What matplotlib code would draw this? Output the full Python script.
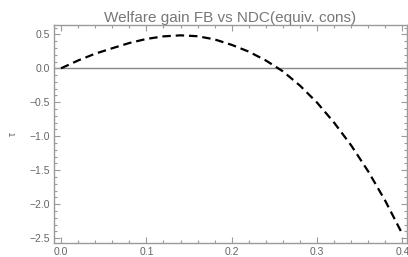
import matplotlib
matplotlib.use("Agg")
import matplotlib.pyplot as plt
from matplotlib.ticker import MultipleLocator

# values
x_vals = [0.00, 0.02, 0.04, 0.06, 0.08, 0.10, 0.12, 0.14, 0.16, 0.18, 0.20,
          0.22, 0.24, 0.26, 0.28, 0.30, 0.32, 0.34, 0.36, 0.38, 0.40]
tau_vals = [0.000, 0.115, 0.215, 0.295, 0.372, 0.432, 0.470, 0.485, 0.472, 0.425, 0.345,
            0.245, 0.115, -0.045, -0.255, -0.505, -0.800, -1.135, -1.518, -1.952, -2.440]
x_ticks = [0.0, 0.1, 0.2, 0.3, 0.4]
y_ticks = [0.5, 0.0, -0.5, -1.0, -1.5, -2.0, -2.5]

plt.rcParams["font.family"] = ["Liberation Sans", "DejaVu Sans"]
frame_col = "#9a9a9a"
text_col = "#666666"

fig = plt.figure(figsize=(4.08, 2.57), dpi=100)
ax = fig.add_axes([0.1316, 0.0545, 0.8652, 0.8482])

ax.axhline(0, color="#888888", lw=1.0, zorder=1)
ax.plot(x_vals, tau_vals, color="black", lw=1.6, ls=(0, (3.8, 2.2)), zorder=2)

ax.set_xlim(-0.0086, 0.405)
ax.set_ylim(-2.57, 0.637)
ax.set_xticks(x_ticks)
ax.set_yticks(y_ticks)
ax.xaxis.set_minor_locator(MultipleLocator(0.02))
ax.yaxis.set_minor_locator(MultipleLocator(0.1))
ax.xaxis.set_major_formatter(plt.FuncFormatter(lambda v, p: f"{v:.1f}"))
ax.yaxis.set_major_formatter(plt.FuncFormatter(lambda v, p: f"{v:.1f}".replace("-", "\u2212")))

ax.tick_params(which="both", direction="in", top=True, right=True, colors=frame_col,
               labelcolor=text_col, labelsize=7.5, width=0.8)
ax.tick_params(which="major", length=4, pad=3)
ax.tick_params(which="minor", length=2)
for s in ax.spines.values():
    s.set_color(frame_col)
    s.set_linewidth(1.0)

ax.set_title("Welfare gain FB vs NDC(equiv. cons)", fontsize=11, color="#777777", pad=2)
ax.set_ylabel("\u03c4", fontsize=7, color=text_col, labelpad=8)

fig.savefig("out.png", dpi=100)
